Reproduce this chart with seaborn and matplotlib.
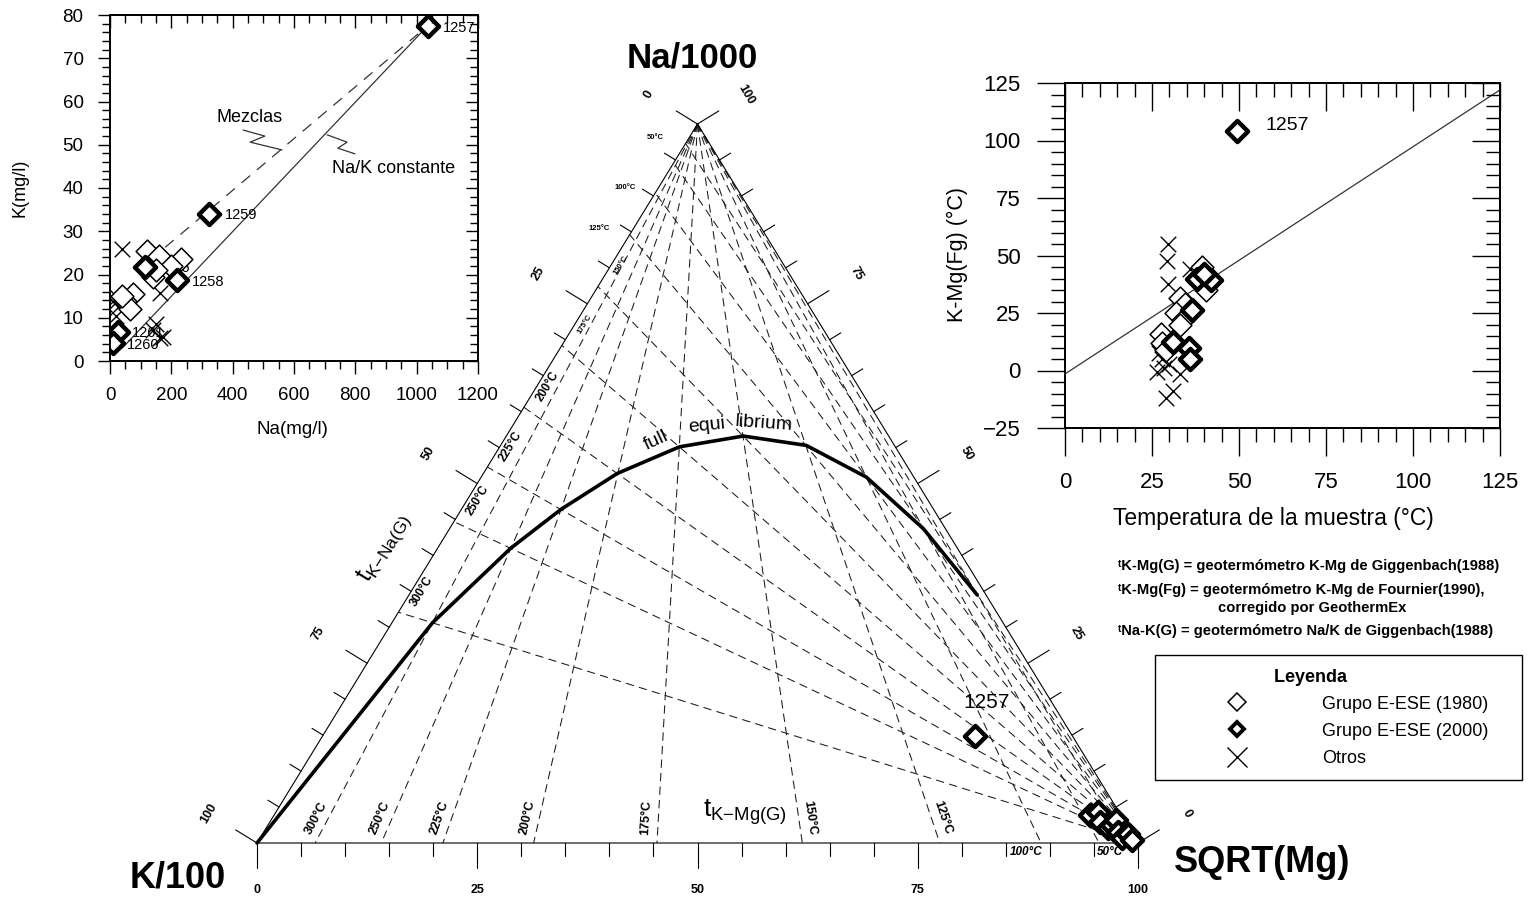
import numpy as np
import pandas as pd
import matplotlib
matplotlib.use("Agg")
import matplotlib.pyplot as plt
import seaborn as sns
from matplotlib.lines import Line2D
from matplotlib.ticker import MultipleLocator

# ===================== DATA =====================
# --- Ternary Giggenbach diagram (percent of Na/1000, K/100, sqrt(Mg)) ---
isotherm_temps = [300, 250, 225, 200, 175, 150, 125, 100, 75, 50]
nak_left_na_pct = [32.1, 44.7, 52.3, 60.6, 69.2, 77.4, 84.6, 90.4, 94.6, 97.3]
kmg_bottom_mg_pct = [6.6, 14.1, 21.1, 31.4, 45.4, 61.9, 77.5, 89.0, 95.6, 98.5]

equil_na = [0, 30.6, 41.0, 46.4, 51.4, 55.1, 56.6, 55.3, 50.9, 43.7, 34.5]
equil_k = [100, 64.8, 50.7, 42.3, 33.4, 24.5, 16.5, 10.0, 5.4, 2.5, 1.0]
equil_mg = [0, 4.6, 8.3, 11.3, 15.2, 20.4, 26.9, 34.7, 43.7, 53.8, 64.5]

tern_na = [14.9, 3.9, 4.3, 2.9, 2.1, 2.5, 3.2, 1.5, 0.7, 1.25, 0.4]
tern_k = [11.0, 3.5, 2.4, 2.9, 2.4, 1.7, 0.9, 1.5, 1.5, 0.5, 0.5]
tern_mg = [74.1, 92.6, 93.3, 94.2, 95.5, 95.8, 95.9, 97.0, 97.8, 98.25, 99.1]

edge_ticks = list(range(0, 101, 5))
edge_labels = [0, 25, 50, 75, 100]

# --- Inset 1: Na vs K (mg/l) ---
na_1980 = [120, 160, 232, 200, 140, 150, 76, 50, 65, 40]
k_1980 = [25.5, 24.2, 23.5, 22.0, 19.5, 21.0, 15.5, 13.8, 12.0, 15.0]
na_2000 = [1036, 323, 217, 114, 27, 11]
k_2000 = [77.5, 34.1, 18.7, 21.8, 6.8, 4.1]
ids_2000 = ["1257", "1259", "1258", "1256", "1261", "1260"]
na_otros = [38, 22, 26, 16, 163, 141, 163, 174, 150, 20]
k_otros = [26.0, 14.9, 12.6, 13.3, 15.7, 7.2, 5.3, 5.6, 8.5, 10.5]
mix_line_na = [130, 1036]
mix_line_k = [23.3, 77.5]
const_line_na = [40, 1036]
const_line_k = [3.0, 77.5]
mezclas_leader_na = [434, 505, 457, 561]
mezclas_leader_k = [53.4, 52.0, 50.6, 48.8]
const_leader_na = [708, 773, 743, 799]
const_leader_k = [52.3, 50.6, 49.2, 47.9]

# --- Inset 2: sample temperature vs K-Mg(Fg) ---
t_1980 = [39.5, 40.5, 33, 34.5, 32, 34, 27.5, 28, 29, 33]
kmg_1980 = [45, 35, 31.5, 29, 25, 22, 16, 12, 9, 20]
t_2000 = [49.5, 38, 42, 40, 36.5, 31, 35.5, 36]
kmg_2000 = [104, 40, 39.5, 42, 26.5, 12.5, 10, 5]
t_otros = [29.5, 29.3, 29.5, 36, 27, 28, 26.5, 28.5, 33, 31, 29, 30]
kmg_otros = [55, 47.5, 37.5, 44, 7.5, 5, -0.5, 1, -1.5, -9, -12, 3]
ref_line_t = [0, 125]
ref_line_kmg = [-1.5, 122]

groups = ["Grupo E-ESE (1980)", "Grupo E-ESE (2000)", "Otros"]

# ===================== STYLE =====================
sns.set_theme(style="ticks", rc={"axes.edgecolor": "black", "xtick.color": "black",
                                 "ytick.color": "black", "axes.linewidth": 1.1,
                                 "text.color": "black", "axes.labelcolor": "black"})
plt.rcParams['font.family'] = ['Liberation Sans', 'DejaVu Sans']
plt.rcParams['mathtext.fontset'] = 'custom'
plt.rcParams['mathtext.rm'] = 'Liberation Sans'
plt.rcParams['mathtext.it'] = 'Liberation Sans:italic'
plt.rcParams['mathtext.bf'] = 'Liberation Sans:bold'

W, H = 1538, 901
fig = plt.figure(figsize=(W / 100, H / 100), dpi=100)
fig.patch.set_facecolor("white")

def ft(px, py, s, **kw):
    kw.setdefault('ha', 'center')
    kw.setdefault('va', 'center')
    return fig.text(px / W, 1 - py / H, s, **kw)

mstyle = {
    groups[0]: dict(marker="D", s=135, color="white", edgecolor="black", linewidth=1.1),
    groups[1]: dict(marker="D", s=115, color="white", edgecolor="black", linewidth=3.2),
    groups[2]: dict(marker="x", s=125, color="black", linewidth=1.0),
}

# ===================== TERNARY =====================
X0, Y0, SX, SY = 257, 843, 8.81, 719
ax = fig.add_axes([0, 0, 1, 1])
ax.set_xlim(-X0 / SX, (W - X0) / SX)
ax.set_ylim(-(H - Y0) / SY, Y0 / SY)
ax.axis('off')

def tern(na, k, mg):
    na, k, mg = (np.asarray(v, dtype=float) for v in (na, k, mg))
    s = na + k + mg
    return 100 * (mg + na / 2) / s, na / s

def to_px(x, y):
    return X0 + x * SX, Y0 - y * SY

def to_data(px, py):
    return (px - X0) / SX, (Y0 - py) / SY

kx, ky = tern(0, 100, 0)
mx, my = tern(0, 0, 100)
nx, ny = tern(100, 0, 0)
ax.plot([kx, mx, nx, kx], [ky, my, ny, ky], color='black', lw=0.8, zorder=3)

# ticks & labels on the three edges
edges = {
    'left': (lambda v: (100 - v, v, 0), (-0.852, -0.523), 60),
    'right': (lambda v: (v, 0, 100 - v), (0.852, -0.523), -60),
    'bottom': (lambda v: (0, 100 - v, v), (0.0, 1.0), 0),
}
for name, (comp, (ux, uy), rot) in edges.items():
    for v in edge_ticks:
        x, y = tern(*comp(v))
        px, py = to_px(x, y)
        L = 25 if v % 25 == 0 else 13
        ax.plot([x, (px + ux * L - X0) / SX], [y, (Y0 - (py + uy * L)) / SY],
                color='black', lw=0.8, zorder=3)
    for v in edge_labels:
        x, y = tern(*comp(v))
        px, py = to_px(x, y)
        d = 47 if name == 'bottom' else 57
        lx, ly = to_data(px + ux * d, py + uy * d)
        ax.text(lx, ly, str(v), rotation=rot, ha='center', va='center',
                fontsize=9, fontweight='bold', rotation_mode='anchor')

# isotherms
for T, p in zip(isotherm_temps, nak_left_na_pct):
    x1, y1 = tern(p, 100 - p, 0)
    ax.plot([mx, x1], [my, y1], ls=(0, (8, 5)), color='#1a1a1a', lw=0.75, zorder=2)
for T, p in zip(isotherm_temps, kmg_bottom_mg_pct):
    x1, y1 = tern(0, 100 - p, p)
    ax.plot([nx, x1], [ny, y1], ls=(0, (8, 5)), color='#1a1a1a', lw=0.75, zorder=2)

# K-Mg isotherm labels (bottom)
for T, p in zip(isotherm_temps, kmg_bottom_mg_pct):
    if T >= 125:
        y0 = 0.035
        xl = p + (50 - p) * y0
        px, py = to_px(xl, y0)
        ang = np.degrees(np.arctan2(SY, (50 - p) * SX))
        if ang > 90:
            ang -= 180
            px += 11
        else:
            px -= 12
        ax.text(*to_data(px, py), f"{T}°C", rotation=ang, rotation_mode='anchor',
                ha='center', va='center', fontsize=9, fontweight='bold')
    elif T in (100, 50):
        px, py = to_px(p, 0)
        ax.text(*to_data(px - 15, py + 9), f"{T}°C", ha='center', va='center',
                fontsize=8.5, fontweight='bold', style='italic')

# Na-K isotherm labels (left edge)
for T, p in zip(isotherm_temps, nak_left_na_pct):
    x, y = tern(p, 100 - p, 0)
    px, py = to_px(x, y)
    if T >= 150:
        a, b = 30, 9
        lx, ly = px + 0.523 * a + 0.852 * b, py - 0.852 * a + 0.523 * b
        ax.text(*to_data(lx, ly), f"{T}°C", rotation=58.5, rotation_mode='anchor',
                ha='center', va='center', fontsize=8.5 if T >= 200 else 5.5,
                fontweight='bold')
    elif T in (125, 100, 50):
        ax.text(*to_data(px - 30, py - 6), f"{T}°C", ha='center', va='center',
                fontsize=5.5, fontweight='bold')

# full equilibrium curve
ex, ey = tern(equil_na, equil_k, equil_mg)
sns.lineplot(x=ex, y=ey, sort=False, color='black', lw=2.6, ax=ax, zorder=4)

# ternary samples
tx, ty = tern(tern_na, tern_k, tern_mg)
sns.scatterplot(x=tx, y=ty, ax=ax, zorder=6, legend=False, **mstyle[groups[1]])

ft(987, 703, "1257", fontsize=15)
ft(656, 441, "full", fontsize=14, rotation=25)
ft(707, 426, "equi", fontsize=14, rotation=6)
ft(764, 424, "librium", fontsize=14, rotation=-4)
ft(385, 548, r"$\mathregular{t_{K{-}Na(G)}}$", fontsize=18, rotation=58.5)
ft(745, 812, r"$\mathregular{t_{K{-}Mg(G)}}$", fontsize=19)
ft(692, 58, "Na/1000", fontsize=25, fontweight='bold')
ft(178, 878, "K/100", fontsize=26, fontweight='bold')
ft(1262, 863, "SQRT(Mg)", fontsize=26, fontweight='bold')

# ===================== INSET HELPERS =====================
def frame_ticks(a, xmaj, xmin, ymaj, ymin, lmaj, lmin, lsize, pad):
    tx_ = a.twiny()
    ty_ = a.twinx()
    tx_.set_xlim(a.get_xlim())
    ty_.set_ylim(a.get_ylim())
    for obj in (a, tx_):
        obj.xaxis.set_major_locator(MultipleLocator(xmaj))
        obj.xaxis.set_minor_locator(MultipleLocator(xmin))
    for obj in (a, ty_):
        obj.yaxis.set_major_locator(MultipleLocator(ymaj))
        obj.yaxis.set_minor_locator(MultipleLocator(ymin))
    a.tick_params(which='both', direction='out', width=1, colors='black',
                  top=False, right=False, bottom=True, left=True)
    a.tick_params(which='major', length=lmaj, labelsize=lsize, pad=pad)
    a.tick_params(which='minor', length=lmin)
    tx_.tick_params(axis='x', which='both', direction='in', top=True, bottom=False,
                    labeltop=False, width=1)
    tx_.tick_params(axis='x', which='major', length=lmaj)
    tx_.tick_params(axis='x', which='minor', length=lmin)
    ty_.tick_params(axis='y', which='both', direction='in', right=True, left=False,
                    labelright=False, width=1)
    ty_.tick_params(axis='y', which='major', length=lmaj)
    ty_.tick_params(axis='y', which='minor', length=lmin)
    for obj in (a, tx_, ty_):
        for s in obj.spines.values():
            s.set_visible(True)
            s.set_linewidth(1.1)
            s.set_color('black')

# ===================== INSET 1 =====================
ax1 = fig.add_axes([110 / W, 1 - 361 / H, 368 / W, 346 / H])
ax1.set_xlim(0, 1200)
ax1.set_ylim(0, 80)
ax1.plot(const_line_na, const_line_k, color='#333333', lw=0.9, zorder=2)
ax1.plot(mix_line_na, mix_line_k, color='#333333', lw=0.9, ls=(0, (9, 7)), zorder=2)
ax1.plot(mezclas_leader_na, mezclas_leader_k, color='#333333', lw=0.9)
ax1.plot(const_leader_na, const_leader_k, color='#333333', lw=0.9)
df1 = pd.DataFrame({
    "Na": na_1980 + na_2000 + na_otros,
    "K": k_1980 + k_2000 + k_otros,
    "grupo": [groups[0]] * len(na_1980) + [groups[1]] * len(na_2000) + [groups[2]] * len(na_otros),
})
ax1.text(156, 21.5, "1256", fontsize=10.5, va='center', zorder=3)
for g, z in ((groups[2], 4), (groups[0], 5), (groups[1], 6)):
    sns.scatterplot(data=df1[df1.grupo == g], x="Na", y="K", ax=ax1, zorder=z,
                    legend=False, **mstyle[g])
lab_pos_1 = {"1257": (1086, 77), "1259": (375, 33.8), "1258": (267, 18.3),
             "1261": (72, 6.5), "1260": (55, 3.7)}
for nm, (xx, yy) in lab_pos_1.items():
    ax1.text(xx, yy, nm, fontsize=10.5, va='center', zorder=7)
ax1.text(456, 56.4, "Mezclas", fontsize=13, ha='center', va='center')
ax1.text(926, 44.6, "Na/K constante", fontsize=13, ha='center', va='center')
ax1.set_xlabel("")
ax1.set_ylabel("")
frame_ticks(ax1, 200, 50, 10, 2, 9, 5.5, 13.5, 10)
ft(292, 430, "Na(mg/l)", fontsize=13.5)
ft(20, 188, "K(mg/l)", fontsize=13, rotation=90)

# ===================== INSET 2 =====================
ax2 = fig.add_axes([1065 / W, 1 - 428 / H, 435 / W, 345 / H])
ax2.set_xlim(0, 125)
ax2.set_ylim(-25, 125)
ax2.plot(ref_line_t, ref_line_kmg, color='#333333', lw=0.9, zorder=2)
df2 = pd.DataFrame({
    "T": t_1980 + t_2000 + t_otros,
    "KMg": kmg_1980 + kmg_2000 + kmg_otros,
    "grupo": [groups[0]] * len(t_1980) + [groups[1]] * len(t_2000) + [groups[2]] * len(t_otros),
})
for g, z in ((groups[2], 4), (groups[0], 5), (groups[1], 6)):
    sns.scatterplot(data=df2[df2.grupo == g], x="T", y="KMg", ax=ax2, zorder=z,
                    legend=False, **mstyle[g])
ax2.text(57.5, 106.5, "1257", fontsize=14, va='center')
ax2.set_xlabel("")
ax2.set_ylabel("")
frame_ticks(ax2, 25, 5, 25, 5, 20, 10, 16, 12)
ft(1273, 519, "Temperatura de la muestra (°C)", fontsize=16.5)
ft(957, 255, "K-Mg(Fg) (°C)", fontsize=15.5, rotation=90)

# ===================== NOTES & LEGEND =====================
ft(1118, 566, "ᵗK-Mg(G) = geotermómetro K-Mg de Giggenbach(1988)", ha='left',
   fontsize=10.6, fontweight='bold')
ft(1118, 590, "ᵗK-Mg(Fg) = geotermómetro K-Mg de Fournier(1990),", ha='left',
   fontsize=10.6, fontweight='bold')
ft(1218, 608, "corregido por GeothermEx", ha='left', fontsize=10.6, fontweight='bold')
ft(1118, 631, "ᵗNa-K(G) = geotermómetro Na/K de Giggenbach(1988)", ha='left',
   fontsize=10.6, fontweight='bold')

handles = [
    Line2D([], [], ls='none', marker='D', ms=9, mfc='white', mec='black', mew=1.1),
    Line2D([], [], ls='none', marker='D', ms=7.5, mfc='white', mec='black', mew=2.8),
    Line2D([], [], ls='none', marker='x', ms=14, mec='black', mew=1.0),
]
leg = fig.legend(handles, groups, loc='upper left',
                 bbox_to_anchor=(1155 / W, 1 - 778 / H, 367 / W, 123 / H),
                 mode='expand', borderaxespad=0, borderpad=0.75, fontsize=13,
                 title="Leyenda" + " " * 11,
                 title_fontproperties={'weight': 'bold', 'size': 13},
                 handlelength=7.6, handletextpad=0.89, labelspacing=0.56,
                 frameon=True, fancybox=False, edgecolor='black', framealpha=1)
leg.get_frame().set_linewidth(1.0)

fig.savefig("out.png", dpi=100, facecolor="white")
